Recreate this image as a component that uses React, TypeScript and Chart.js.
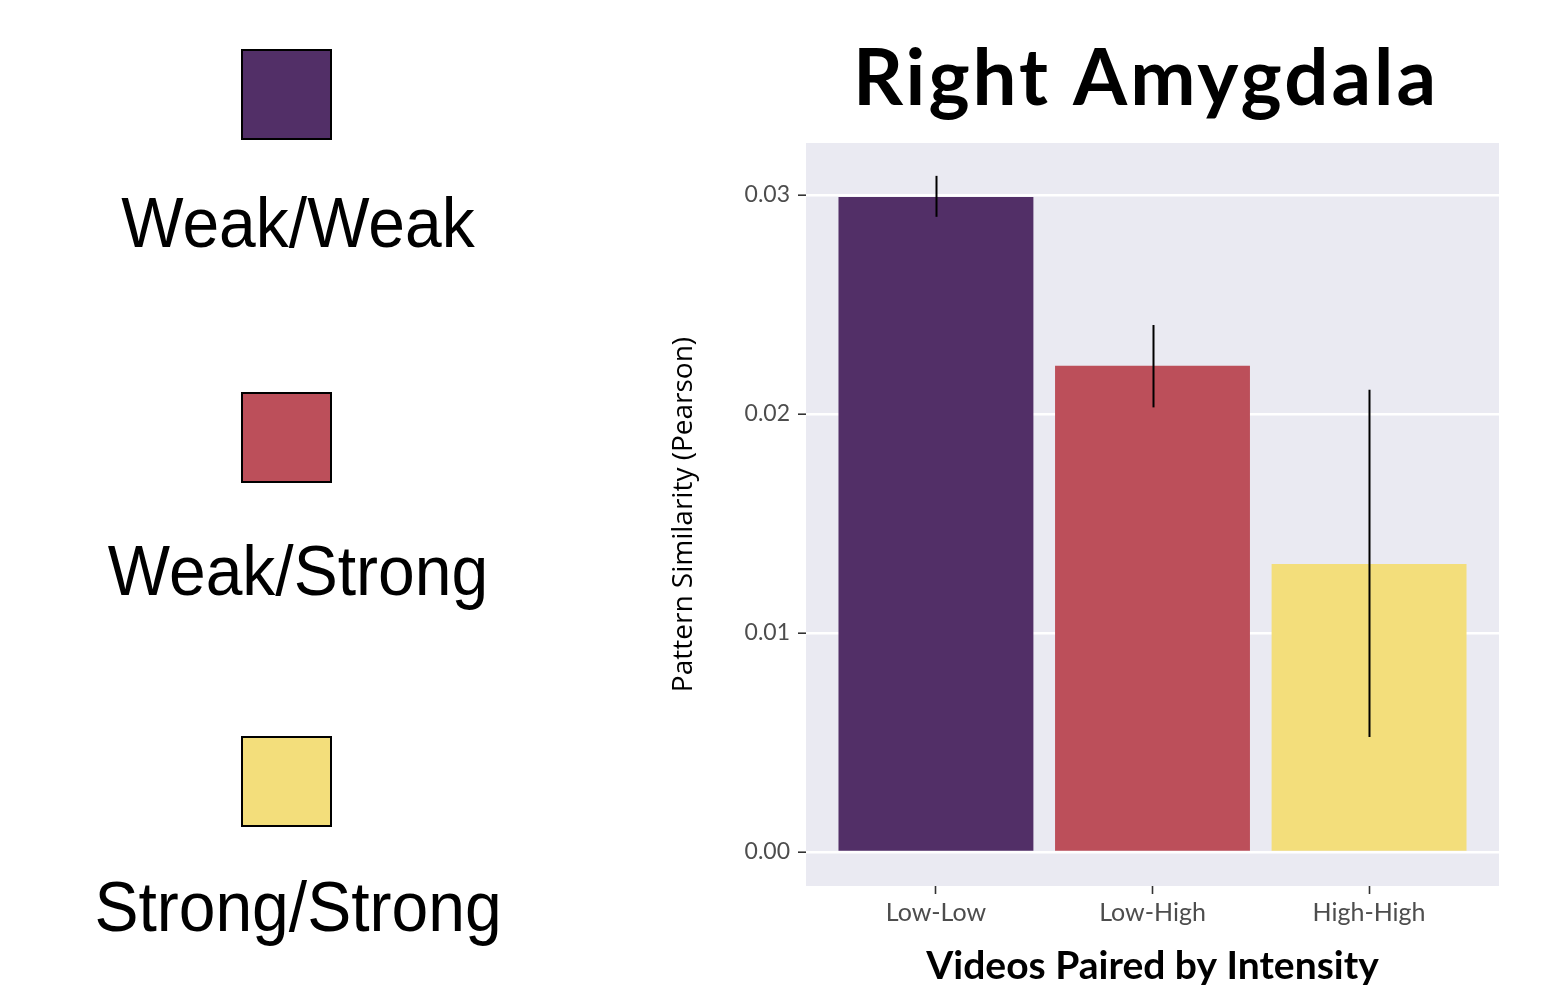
import React, { useEffect, useRef } from "react";
import { Chart, registerables } from "chart.js";

Chart.register(...registerables);

const CATEGORIES = ["Low-Low", "Low-High", "High-High"];
const LEGEND_LABELS = ["Weak/Weak", "Weak/Strong", "Strong/Strong"];
const MEANS = [0.0299, 0.0222, 0.01315];
const ERR_LOW = [0.029, 0.0203, 0.00525];
const ERR_HIGH = [0.03087, 0.02406, 0.0211];
const COLORS = ["#522F67", "#BC4F5A", "#F3DE7B"];
const Y_TICKS = [0, 0.01, 0.02, 0.03];
const Y_MIN = -0.00155;
const Y_MAX = 0.03237;
const TITLE = "Right Amygdala";
const X_TITLE = "Videos Paired by Intensity";
const Y_TITLE = "Pattern Similarity (Pearson)";

const W = 1551;
const H = 998;

const panelBg = {
  id: "panelBg",
  beforeDraw(chart: any) {
    const { ctx, chartArea } = chart;
    ctx.save();
    ctx.fillStyle = "#EAEAF2";
    ctx.fillRect(chartArea.left, chartArea.top, chartArea.right - chartArea.left, chartArea.bottom - chartArea.top);
    ctx.restore();
  },
};

const errorBars = {
  id: "errorBars",
  afterDatasetsDraw(chart: any) {
    const { ctx } = chart;
    const xs = chart.scales.x;
    const ys = chart.scales.y;
    ctx.save();
    ctx.strokeStyle = "#000";
    ctx.lineWidth = 2;
    MEANS.forEach((_, i) => {
      const x = Math.round(xs.getPixelForValue(i)) + 0.5;
      ctx.beginPath();
      ctx.moveTo(x, ys.getPixelForValue(ERR_LOW[i]));
      ctx.lineTo(x, ys.getPixelForValue(ERR_HIGH[i]));
      ctx.stroke();
    });
    ctx.restore();
  },
};

const titlePlugin = {
  id: "bigTitle",
  afterDraw(chart: any) {
    const { ctx } = chart;
    ctx.save();
    ctx.fillStyle = "#000";
    ctx.font = "bold 78px Lato";
    try {
      (ctx as any).letterSpacing = "3px";
    } catch (e) {}
    ctx.textAlign = "center";
    ctx.textBaseline = "alphabetic";
    ctx.fillText(TITLE, 1146, 105);
    ctx.restore();
  },
};

export default function App() {
  const ref = useRef<HTMLCanvasElement | null>(null);

  useEffect(() => {
    document.body.style.margin = "0";
    const canvas = ref.current;
    if (!canvas) return;
    const chart = new Chart(canvas, {
      type: "bar",
      data: {
        datasets: [
          {
            data: MEANS.map((v, i) => ({ x: i, y: v })),
            backgroundColor: COLORS,
            borderWidth: 0,
            barPercentage: 0.9,
            categoryPercentage: 1.0,
          },
        ],
      },
      options: {
        animation: false,
        responsive: false,
        devicePixelRatio: 1,
        layout: { padding: { top: 143, right: 52, left: 650, bottom: 0 } },
        plugins: {
          legend: { display: false },
          title: { display: false },
          tooltip: { enabled: false },
        },
        scales: {
          x: {
            type: "linear",
            min: -0.6,
            max: 2.6,
            offset: false,
            afterBuildTicks: (scale: any) => {
              scale.ticks = CATEGORIES.map((_, i) => ({ value: i }));
            },
            afterFit: (scale: any) => {
              scale.height = 112;
            },
            ticks: {
              autoSkip: false,
              maxRotation: 0,
              padding: 4,
              color: "#4D4D4D",
              font: { family: "Lato", size: 25 },
              callback: (v: any) => CATEGORIES[v] ?? "",
            },
            grid: {
              offset: false,
              drawOnChartArea: false,
              drawTicks: true,
              tickLength: 8,
              tickColor: "#333333",
              tickWidth: 1.6,
            },
            border: { display: false },
            title: {
              display: true,
              text: X_TITLE,
              color: "#000",
              font: { family: "Lato", size: 39, weight: "bold" },
              padding: { top: 0, bottom: 8 },
            },
          },
          y: {
            type: "linear",
            min: Y_MIN,
            max: Y_MAX,
            afterBuildTicks: (scale: any) => {
              scale.ticks = Y_TICKS.map((v) => ({ value: v }));
            },
            afterFit: (scale: any) => {
              scale.width = 156;
            },
            ticks: {
              padding: 8,
              color: "#4D4D4D",
              font: { family: "Lato", size: 23 },
              callback: (v: any) => Number(v).toFixed(2),
            },
            grid: {
              color: "#FFFFFF",
              lineWidth: 2.4,
              drawTicks: true,
              tickLength: 8,
              tickColor: "#333333",
              tickWidth: 1.6,
            },
            border: { display: false },
            title: {
              display: true,
              text: Y_TITLE,
              color: "#000",
              font: { family: "Open Sans", size: 28 },
              padding: { top: 17, bottom: 0 },
            },
          },
        },
      },
      plugins: [panelBg, errorBars, titlePlugin],
    } as any);
    return () => chart.destroy();
  }, []);

  const squareTops = [49, 392, 736];
  const labelTops = [189, 537, 873];

  return (
    <div style={{ position: "relative", width: W, height: H, background: "#fff", overflow: "hidden" }}>
      {LEGEND_LABELS.map((lab, i) => (
        <React.Fragment key={lab}>
          <div
            style={{
              position: "absolute",
              left: 241,
              top: squareTops[i],
              width: 91,
              height: 91,
              boxSizing: "border-box",
              border: "2px solid #000",
              background: COLORS[i],
            }}
          />
          <div
            style={{
              position: "absolute",
              left: 0,
              width: 596,
              top: labelTops[i],
              height: 66,
              lineHeight: "66px",
              fontSize: 66,
              fontFamily: "'Liberation Sans', Arial, sans-serif",
              color: "#000",
              textAlign: "center",
              whiteSpace: "nowrap",
              transform: "scaleY(1.07)",
              transformOrigin: "center center",
            }}
          >
            {lab}
          </div>
        </React.Fragment>
      ))}
      <canvas ref={ref} width={W} height={H} style={{ position: "absolute", left: 0, top: 0 }} />
    </div>
  );
}
